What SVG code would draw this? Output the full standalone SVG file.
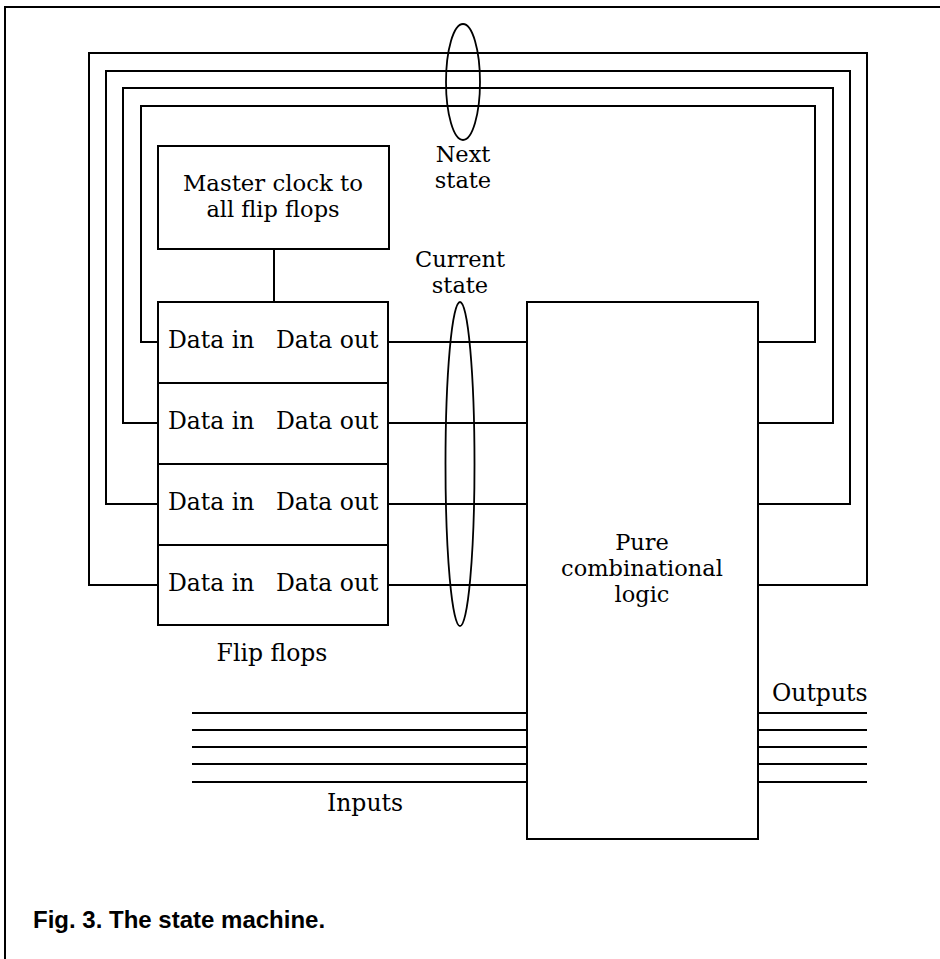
<svg xmlns="http://www.w3.org/2000/svg" width="940" height="959" viewBox="0 0 940 959">
<style>
.ln{fill:none;stroke:#000;stroke-width:2;stroke-linejoin:miter}
.bx{fill:#fff;stroke:#000;stroke-width:2}
.el{fill:none;stroke:#000;stroke-width:1.8}
.t{font-family:"DejaVu Serif","Liberation Serif",serif;font-size:23.5px;fill:#000}
.t2{font-family:"DejaVu Serif","Liberation Serif",serif;font-size:22.5px;fill:#000;text-anchor:middle}
.m{text-anchor:middle}
.cap{font-family:"Liberation Sans",Arial,sans-serif;font-size:24px;font-weight:bold;fill:#000}
</style>
<rect width="940" height="959" fill="#fff"/>
<g id="frame">
<path class="ln" d="M5,959 V7 H940"/>
</g>
<g id="connectors">
<path class="ln" d="M758,342 H815 V106 H141 V342 H158"/>
<path class="ln" d="M758,423 H833 V88 H123 V423 H158"/>
<path class="ln" d="M758,504 H850 V71 H106 V504 H158"/>
<path class="ln" d="M758,585 H867 V53 H89 V585 H158"/>
<path class="ln" d="M388,342 H527 M388,423 H527 M388,504 H527 M388,585 H527"/>
<path class="ln" d="M274,249 V302"/>
<path class="ln" d="M192,713 H527 M192,730 H527 M192,747 H527 M192,764 H527 M192,782 H527"/>
<path class="ln" d="M758,713 H867 M758,730 H867 M758,747 H867 M758,764 H867 M758,782 H867"/>
</g>
<g id="clock">
<rect class="bx" x="158" y="146" width="231" height="103"/>
<text class="t2" x="273" y="191" textLength="180" lengthAdjust="spacingAndGlyphs">Master clock to</text>
<text class="t2" x="273" y="217">all flip flops</text>
</g>
<g id="flipflops">
<rect class="bx" x="158" y="302" width="230" height="323"/>
<path class="ln" d="M158,383 H388 M158,464 H388 M158,545 H388"/>
<g id="ff1"><text class="t" x="168" y="348">Data in</text><text class="t" x="276" y="348">Data out</text></g>
<g id="ff2"><text class="t" x="168" y="429">Data in</text><text class="t" x="276" y="429">Data out</text></g>
<g id="ff3"><text class="t" x="168" y="510">Data in</text><text class="t" x="276" y="510">Data out</text></g>
<g id="ff4"><text class="t" x="168" y="591">Data in</text><text class="t" x="276" y="591">Data out</text></g>
<text class="t m" x="272" y="661">Flip flops</text>
</g>
<g id="logic">
<rect class="bx" x="527" y="302" width="231" height="537"/>
<text class="t2" x="642" y="550">Pure</text>
<text class="t2" x="642" y="576">combinational</text>
<text class="t2" x="642" y="602">logic</text>
</g>
<g id="next-state">
<ellipse class="el" cx="463" cy="82" rx="17" ry="58"/>
<text class="t2" x="463" y="162">Next</text>
<text class="t2" x="463" y="188">state</text>
</g>
<g id="current-state">
<ellipse class="el" cx="460" cy="464" rx="14.5" ry="162"/>
<text class="t2" x="460" y="267">Current</text>
<text class="t2" x="460" y="293">state</text>
</g>
<g id="io-labels">
<text class="t m" x="365" y="811">Inputs</text>
<text class="t" x="772" y="701">Outputs</text>
</g>
<text class="cap" x="33" y="928">Fig. 3. The state machine.</text>
</svg>
